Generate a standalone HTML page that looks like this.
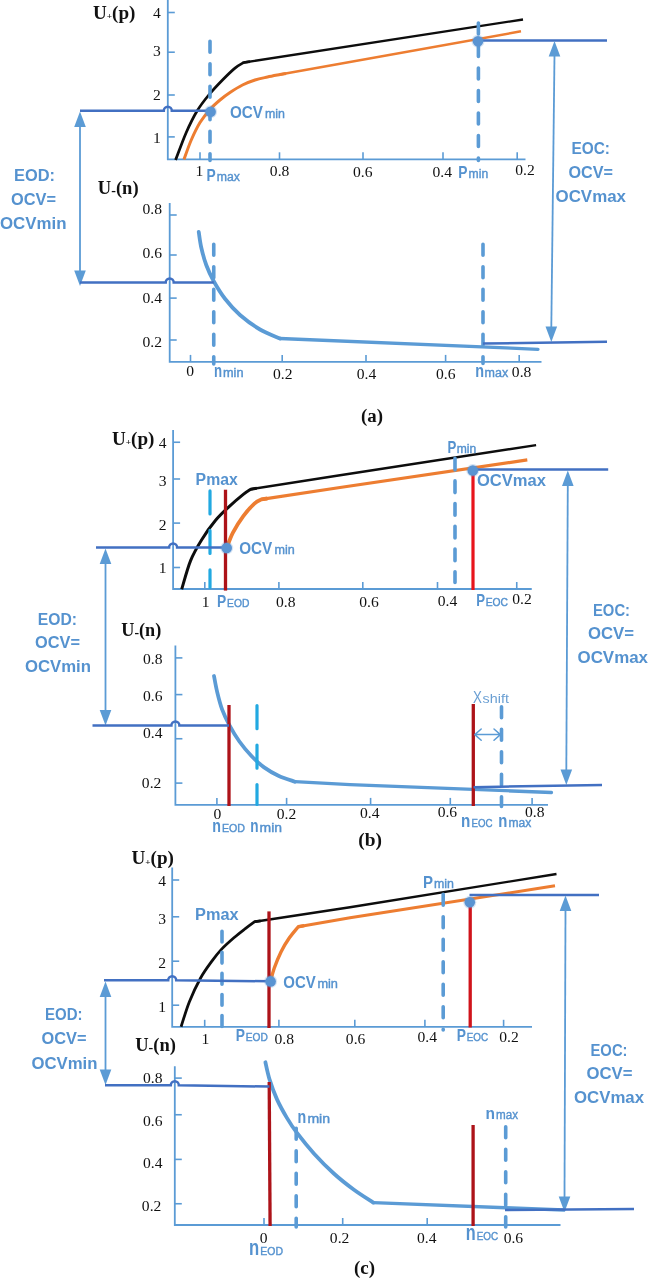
<!DOCTYPE html>
<html lang="en"><head><meta charset="utf-8"><title>Electrode OCV alignment: (a) (b) (c)</title>
<style>
html,body{margin:0;padding:0;background:#fff;}
svg{display:block;filter:blur(0.35px);}
.sans{font-family:"Liberation Sans","DejaVu Sans",sans-serif;}
.serif{font-family:"Liberation Serif","DejaVu Serif",serif;}
</style></head><body>
<svg width="648" height="1280" viewBox="0 0 648 1280">
<rect width="648" height="1280" fill="#fff"/>
<path d="M167.8,0 L167.8,159.3 L525.5,159.3" fill="none" stroke="#5B9BD5" stroke-width="1.8" />
<line x1="167.8" y1="12.5" x2="174.8" y2="12.5" stroke="#5B9BD5" stroke-width="1.6" />
<line x1="167.8" y1="52.2" x2="174.8" y2="52.2" stroke="#5B9BD5" stroke-width="1.6" />
<line x1="167.8" y1="95" x2="174.8" y2="95" stroke="#5B9BD5" stroke-width="1.6" />
<line x1="167.8" y1="136.9" x2="174.8" y2="136.9" stroke="#5B9BD5" stroke-width="1.6" />
<line x1="200" y1="159.3" x2="200" y2="152.3" stroke="#5B9BD5" stroke-width="1.6" />
<line x1="279.5" y1="159.3" x2="279.5" y2="152.3" stroke="#5B9BD5" stroke-width="1.6" />
<line x1="363" y1="159.3" x2="363" y2="152.3" stroke="#5B9BD5" stroke-width="1.6" />
<line x1="443" y1="159.3" x2="443" y2="152.3" stroke="#5B9BD5" stroke-width="1.6" />
<line x1="517.2" y1="159.3" x2="517.2" y2="152.3" stroke="#5B9BD5" stroke-width="1.6" />
<text x="93" y="18.9" font-size="18.5" class="serif" font-weight="bold" fill="#111" textLength="42.5" lengthAdjust="spacingAndGlyphs">U<tspan font-size="9" dy="0.5">+</tspan><tspan dy="-0.5">(p)</tspan></text>
<text x="157" y="17.5" font-size="15.6" class="serif" text-anchor="middle" fill="#111">4</text>
<text x="157" y="55.6" font-size="15.6" class="serif" text-anchor="middle" fill="#111">3</text>
<text x="157" y="100" font-size="15.6" class="serif" text-anchor="middle" fill="#111">2</text>
<text x="157" y="143.1" font-size="15.6" class="serif" text-anchor="middle" fill="#111">1</text>
<text x="199.5" y="176.4" font-size="15.6" class="serif" text-anchor="middle" fill="#111">1</text>
<text x="279.6" y="176.4" font-size="15.6" class="serif" text-anchor="middle" fill="#111">0.8</text>
<text x="362.8" y="177" font-size="15.6" class="serif" text-anchor="middle" fill="#111">0.6</text>
<text x="442.2" y="177" font-size="15.6" class="serif" text-anchor="middle" fill="#111">0.4</text>
<text x="525" y="175" font-size="15.6" class="serif" text-anchor="middle" fill="#111">0.2</text>
<path d="M243.75,62.5 L523,19.5" fill="none" stroke="#0d0d0d" stroke-width="2.3" />
<path d="M175.6,160 C177.38,155.42 182.7,140.62 186.25,132.5 C189.8,124.38 193.15,117.5 196.9,111.25 C200.65,105.0 204.48,100.21 208.75,95 C213.02,89.79 218.12,84.48 222.5,80 C226.88,75.52 231.46,71.02 235,68.1 C238.54,65.18 242.29,63.43 243.75,62.5 L250,61.54" fill="none" stroke="#0d0d0d" stroke-width="2.75" stroke-linejoin="round"/>
<path d="M280,74.5 L521,31.3" fill="none" stroke="#ED7D31" stroke-width="2.5" />
<path d="M184,159.4 C185.21,156.17 188.58,146.15 191.25,140 C193.92,133.85 196.88,127.6 200,122.5 C203.12,117.4 206.67,113.15 210,109.4 C213.33,105.65 216.67,102.82 220,100 C223.33,97.18 226.25,95.0 230,92.5 C233.75,90.0 238.33,87.08 242.5,85 C246.67,82.92 250.83,81.33 255,80 C259.17,78.67 263.33,77.92 267.5,77 C271.67,76.08 277.92,74.92 280,74.5 L286,73.42" fill="none" stroke="#ED7D31" stroke-width="3.0" />
<line x1="210" y1="41.3" x2="210" y2="160.5" stroke="#5B9BD5" stroke-width="3.6" stroke-dasharray="10.9 11.6" stroke-linecap="round"/>
<line x1="478.4" y1="23.05" x2="478.4" y2="160.5" stroke="#5B9BD5" stroke-width="3.6" stroke-dasharray="10.9 11.6" stroke-linecap="round"/>
<path d="M80,110.8 L163.8,110.8 A4,4 0 0 1 171.8,110.8 L210,110.8" fill="none" stroke="#4270C2" stroke-width="2.5" />
<line x1="478" y1="40.5" x2="607" y2="40.5" stroke="#4270C2" stroke-width="2.5" />
<circle cx="210.6" cy="111.7" r="6.5" fill="#5A94D2" opacity="0.25"/>
<circle cx="210.6" cy="111.7" r="5.3" fill="#5A94D2"/>
<circle cx="478" cy="41.2" r="6.5" fill="#5A94D2" opacity="0.25"/>
<circle cx="478" cy="41.2" r="5.3" fill="#5A94D2"/>
<text y="117.5" fill="#5592CF" class="sans"><tspan x="230" font-size="17.2" font-weight="bold" textLength="33" lengthAdjust="spacingAndGlyphs">OCV</tspan><tspan x="265" font-size="12.5" font-weight="normal" stroke="#5592CF" stroke-width="0.4" textLength="20" lengthAdjust="spacingAndGlyphs">min</tspan></text>
<text y="180.5" fill="#5592CF" class="sans"><tspan x="206.4" font-size="16.4" font-weight="bold" textLength="9.2" lengthAdjust="spacingAndGlyphs">P</tspan><tspan x="216.7" font-size="12.5" font-weight="normal" stroke="#5592CF" stroke-width="0.4" textLength="23.2" lengthAdjust="spacingAndGlyphs">max</tspan></text>
<text y="177.8" fill="#5592CF" class="sans"><tspan x="458.3" font-size="16.4" font-weight="bold" textLength="9.2" lengthAdjust="spacingAndGlyphs">P</tspan><tspan x="468.6" font-size="12.5" font-weight="normal" stroke="#5592CF" stroke-width="0.4" textLength="19.6" lengthAdjust="spacingAndGlyphs">min</tspan></text>
<text x="14" y="181" font-size="17.2" fill="#5592CF" font-weight="bold" class="sans" textLength="41" lengthAdjust="spacingAndGlyphs">EOD:</text>
<text x="11" y="205" font-size="17.2" fill="#5592CF" font-weight="bold" class="sans" textLength="45" lengthAdjust="spacingAndGlyphs">OCV=</text>
<text x="0" y="228.5" font-size="17.2" fill="#5592CF" font-weight="bold" class="sans" textLength="66.5" lengthAdjust="spacingAndGlyphs">OCVmin</text>
<text x="571.5" y="154.2" font-size="17.2" fill="#5592CF" font-weight="bold" class="sans" textLength="38.5" lengthAdjust="spacingAndGlyphs">EOC:</text>
<text x="568.5" y="177.7" font-size="17.2" fill="#5592CF" font-weight="bold" class="sans" textLength="44.5" lengthAdjust="spacingAndGlyphs">OCV=</text>
<text x="555.5" y="201.5" font-size="17.2" fill="#5592CF" font-weight="bold" class="sans" textLength="70.5" lengthAdjust="spacingAndGlyphs">OCVmax</text>
<line x1="80" y1="125.1" x2="80" y2="272.5" stroke="#5B9BD5" stroke-width="1.8" />
<polygon points="80,111.6 74.2,127.1 85.8,127.1" fill="#5B9BD5"/>
<polygon points="80,286 74.2,270.5 85.8,270.5" fill="#5B9BD5"/>
<line x1="554.5" y1="54.6" x2="551.3" y2="328.5" stroke="#5B9BD5" stroke-width="1.8" />
<polygon points="554.5,41.1 548.7,56.6 560.3,56.6" fill="#5B9BD5"/>
<polygon points="551.3,342 545.5,326.5 557.0999999999999,326.5" fill="#5B9BD5"/>
<path d="M169.7,203 L169.7,361.9 L541.5,361.9" fill="none" stroke="#5B9BD5" stroke-width="1.8" />
<line x1="169.7" y1="215" x2="176.7" y2="215" stroke="#5B9BD5" stroke-width="1.6" />
<line x1="169.7" y1="255" x2="176.7" y2="255" stroke="#5B9BD5" stroke-width="1.6" />
<line x1="169.7" y1="298.1" x2="176.7" y2="298.1" stroke="#5B9BD5" stroke-width="1.6" />
<line x1="169.7" y1="340" x2="176.7" y2="340" stroke="#5B9BD5" stroke-width="1.6" />
<line x1="190.5" y1="361.9" x2="190.5" y2="354.9" stroke="#5B9BD5" stroke-width="1.6" />
<line x1="282.2" y1="361.9" x2="282.2" y2="354.9" stroke="#5B9BD5" stroke-width="1.6" />
<line x1="366" y1="361.9" x2="366" y2="354.9" stroke="#5B9BD5" stroke-width="1.6" />
<line x1="445.6" y1="361.9" x2="445.6" y2="354.9" stroke="#5B9BD5" stroke-width="1.6" />
<line x1="519.2" y1="361.9" x2="519.2" y2="354.9" stroke="#5B9BD5" stroke-width="1.6" />
<text x="97.8" y="194.3" font-size="18.5" class="serif" font-weight="bold" fill="#111" textLength="40.8" lengthAdjust="spacingAndGlyphs">U<tspan font-size="14" dy="0.5">-</tspan><tspan dy="-0.5">(n)</tspan></text>
<text x="152.3" y="213.75" font-size="15.6" class="serif" text-anchor="middle" fill="#111">0.8</text>
<text x="152.3" y="258.1" font-size="15.6" class="serif" text-anchor="middle" fill="#111">0.6</text>
<text x="152.3" y="302.5" font-size="15.6" class="serif" text-anchor="middle" fill="#111">0.4</text>
<text x="152.3" y="346.9" font-size="15.6" class="serif" text-anchor="middle" fill="#111">0.2</text>
<text x="190.2" y="376.3" font-size="15.6" class="serif" text-anchor="middle" fill="#111">0</text>
<text x="282.7" y="379.3" font-size="15.6" class="serif" text-anchor="middle" fill="#111">0.2</text>
<text x="366.5" y="378.9" font-size="15.6" class="serif" text-anchor="middle" fill="#111">0.4</text>
<text x="445.7" y="378.9" font-size="15.6" class="serif" text-anchor="middle" fill="#111">0.6</text>
<text x="521.6" y="376.7" font-size="15.6" class="serif" text-anchor="middle" fill="#111">0.8</text>
<path d="M280,338.5 L538,349.3" fill="none" stroke="#5B9BD5" stroke-width="3.3" stroke-linecap="round" stroke-linejoin="round"/>
<path d="M198.75,232 C199.17,234.58 200.0,242.0 201.25,247.5 C202.5,253.0 204.17,259.38 206.25,265 C208.33,270.62 210.62,275.62 213.75,281.25 C216.88,286.88 220.62,293.12 225,298.75 C229.38,304.38 234.17,309.88 240,315 C245.83,320.12 253.33,325.58 260,329.5 C266.67,333.42 276.67,337.0 280,338.5" fill="none" stroke="#5B9BD5" stroke-width="3.8" stroke-linecap="round" stroke-linejoin="round"/>
<line x1="213.75" y1="244.3" x2="213.75" y2="364" stroke="#5B9BD5" stroke-width="3.6" stroke-dasharray="10.9 11.6" stroke-linecap="round"/>
<line x1="483" y1="244.3" x2="483" y2="363.5" stroke="#5B9BD5" stroke-width="3.6" stroke-dasharray="10.9 11.6" stroke-linecap="round"/>
<path d="M80,282.4 L165.7,282.4 A4,4 0 0 1 173.7,282.4 L213.75,282.4" fill="none" stroke="#4270C2" stroke-width="2.5" />
<line x1="483" y1="343.6" x2="607" y2="341.8" stroke="#4270C2" stroke-width="2.5" />
<text y="376.5" fill="#5592CF" class="sans"><tspan x="213.9" font-size="17.5" font-weight="bold" textLength="8.1" lengthAdjust="spacingAndGlyphs">n</tspan><tspan x="223" font-size="12" font-weight="normal" stroke="#5592CF" stroke-width="0.4" textLength="20.5" lengthAdjust="spacingAndGlyphs">min</tspan></text>
<text y="376.7" fill="#5592CF" class="sans"><tspan x="475.2" font-size="17.5" font-weight="bold" textLength="8.8" lengthAdjust="spacingAndGlyphs">n</tspan><tspan x="484.6" font-size="12" font-weight="normal" stroke="#5592CF" stroke-width="0.4" textLength="23.6" lengthAdjust="spacingAndGlyphs">max</tspan></text>
<text x="361" y="422" font-size="18" class="serif" font-weight="bold" fill="#111" textLength="22" lengthAdjust="spacingAndGlyphs">(a)</text>
<path d="M173.1,430 L173.1,589 L531.75,589" fill="none" stroke="#5B9BD5" stroke-width="1.8" />
<line x1="173.1" y1="442.25" x2="180.1" y2="442.25" stroke="#5B9BD5" stroke-width="1.6" />
<line x1="173.1" y1="479" x2="180.1" y2="479" stroke="#5B9BD5" stroke-width="1.6" />
<line x1="173.1" y1="523.1" x2="180.1" y2="523.1" stroke="#5B9BD5" stroke-width="1.6" />
<line x1="173.1" y1="567.5" x2="180.1" y2="567.5" stroke="#5B9BD5" stroke-width="1.6" />
<line x1="204.8" y1="589" x2="204.8" y2="582" stroke="#5B9BD5" stroke-width="1.6" />
<line x1="278.9" y1="589" x2="278.9" y2="582" stroke="#5B9BD5" stroke-width="1.6" />
<line x1="362.8" y1="589" x2="362.8" y2="582" stroke="#5B9BD5" stroke-width="1.6" />
<line x1="437.5" y1="589" x2="437.5" y2="582" stroke="#5B9BD5" stroke-width="1.6" />
<line x1="516.75" y1="589" x2="516.75" y2="582" stroke="#5B9BD5" stroke-width="1.6" />
<text x="112" y="444.6" font-size="18.5" class="serif" font-weight="bold" fill="#111" textLength="42.5" lengthAdjust="spacingAndGlyphs">U<tspan font-size="9" dy="0.5">+</tspan><tspan dy="-0.5">(p)</tspan></text>
<text x="162.7" y="447.5" font-size="15.6" class="serif" text-anchor="middle" fill="#111">4</text>
<text x="162.7" y="485.6" font-size="15.6" class="serif" text-anchor="middle" fill="#111">3</text>
<text x="162.7" y="530" font-size="15.6" class="serif" text-anchor="middle" fill="#111">2</text>
<text x="162.7" y="573.1" font-size="15.6" class="serif" text-anchor="middle" fill="#111">1</text>
<text x="205.6" y="606.9" font-size="15.6" class="serif" text-anchor="middle" fill="#111">1</text>
<text x="285.7" y="606.9" font-size="15.6" class="serif" text-anchor="middle" fill="#111">0.8</text>
<text x="369" y="606.9" font-size="15.6" class="serif" text-anchor="middle" fill="#111">0.6</text>
<text x="447.5" y="606.4" font-size="15.6" class="serif" text-anchor="middle" fill="#111">0.4</text>
<text x="522" y="603.9" font-size="15.6" class="serif" text-anchor="middle" fill="#111">0.2</text>
<path d="M250.8,489.2 L340,475.3 L536.1,445.1" fill="none" stroke="#0d0d0d" stroke-width="2.4" stroke-linejoin="round"/>
<path d="M181.7,589.2 C183.18,584.43 187.27,568.85 190.6,560.6 C193.93,552.35 197.53,546.42 201.7,539.7 C205.87,532.98 210.98,525.85 215.6,520.3 C220.22,514.75 224.78,510.72 229.4,506.4 C234.02,502.08 239.73,497.27 243.3,494.4 C246.87,491.53 249.55,490.07 250.8,489.2 L256.73,488.28" fill="none" stroke="#0d0d0d" stroke-width="3.0" stroke-linejoin="round"/>
<path d="M261.4,499.4 L340,487.5 L527.3,459.9" fill="none" stroke="#ED7D31" stroke-width="3.2" stroke-linejoin="round"/>
<path d="M226.7,548 C227.72,545.47 230.03,538.12 232.8,532.8 C235.57,527.48 239.7,520.97 243.3,516.1 C246.9,511.23 251.38,506.38 254.4,503.6 C257.42,500.82 260.23,500.1 261.4,499.4 L267.33,498.5" fill="none" stroke="#ED7D31" stroke-width="3.8" stroke-linejoin="round"/>
<line x1="210" y1="490.9" x2="210" y2="587.4" stroke="#22A9E1" stroke-width="3.2" stroke-dasharray="23.1 16.4" stroke-linecap="round"/>
<line x1="225.5" y1="489.7" x2="225.5" y2="590.6" stroke="#AD1319" stroke-width="3.3" />
<line x1="455" y1="458.2" x2="455" y2="582.5" stroke="#5B9BD5" stroke-width="3.6" stroke-dasharray="11.7 11.0" stroke-linecap="round"/>
<line x1="473" y1="470.5" x2="473" y2="590" stroke="#E8141C" stroke-width="3.2" />
<path d="M96,547.4 L169.1,547.4 A4,4 0 0 1 177.1,547.4 L226.7,547.4" fill="none" stroke="#4270C2" stroke-width="2.5" />
<line x1="473" y1="469.4" x2="608.2" y2="469.4" stroke="#4270C2" stroke-width="2.5" />
<circle cx="226.7" cy="548" r="6.5" fill="#5A94D2" opacity="0.25"/>
<circle cx="226.7" cy="548" r="5.3" fill="#5A94D2"/>
<circle cx="472.8" cy="470.5" r="6.5" fill="#5A94D2" opacity="0.25"/>
<circle cx="472.8" cy="470.5" r="5.3" fill="#5A94D2"/>
<text x="195.6" y="485" font-size="15.8" fill="#5592CF" font-weight="bold" class="sans" textLength="42.2" lengthAdjust="spacingAndGlyphs">Pmax</text>
<text y="553.6" fill="#5592CF" class="sans"><tspan x="239.2" font-size="17.2" font-weight="bold" textLength="33.1" lengthAdjust="spacingAndGlyphs">OCV</tspan><tspan x="274.4" font-size="12.5" font-weight="normal" stroke="#5592CF" stroke-width="0.4" textLength="20.3" lengthAdjust="spacingAndGlyphs">min</tspan></text>
<text y="606.9" fill="#5592CF" class="sans"><tspan x="217" font-size="16.4" font-weight="bold" textLength="9.2" lengthAdjust="spacingAndGlyphs">P</tspan><tspan x="227.1" font-size="10.8" font-weight="normal" stroke="#5592CF" stroke-width="0.4" textLength="22.3" lengthAdjust="spacingAndGlyphs">EOD</tspan></text>
<text y="452.5" fill="#5592CF" class="sans"><tspan x="447.4" font-size="16.4" font-weight="bold" textLength="8.8" lengthAdjust="spacingAndGlyphs">P</tspan><tspan x="456.8" font-size="12.5" font-weight="normal" stroke="#5592CF" stroke-width="0.4" textLength="19.5" lengthAdjust="spacingAndGlyphs">min</tspan></text>
<text x="477" y="486.3" font-size="17.2" fill="#5592CF" font-weight="bold" class="sans" textLength="69" lengthAdjust="spacingAndGlyphs">OCVmax</text>
<text y="606.25" fill="#5592CF" class="sans"><tspan x="476.25" font-size="16.4" font-weight="bold" textLength="8.8" lengthAdjust="spacingAndGlyphs">P</tspan><tspan x="485.7" font-size="10.5" font-weight="normal" stroke="#5592CF" stroke-width="0.4" textLength="22.3" lengthAdjust="spacingAndGlyphs">EOC</tspan></text>
<text x="37.8" y="625" font-size="17.2" fill="#5592CF" font-weight="bold" class="sans" textLength="39.2" lengthAdjust="spacingAndGlyphs">EOD:</text>
<text x="35" y="647.5" font-size="17.2" fill="#5592CF" font-weight="bold" class="sans" textLength="45" lengthAdjust="spacingAndGlyphs">OCV=</text>
<text x="25" y="671.5" font-size="17.2" fill="#5592CF" font-weight="bold" class="sans" textLength="66" lengthAdjust="spacingAndGlyphs">OCVmin</text>
<text x="593" y="616" font-size="17.2" fill="#5592CF" font-weight="bold" class="sans" textLength="37" lengthAdjust="spacingAndGlyphs">EOC:</text>
<text x="588" y="638.5" font-size="17.2" fill="#5592CF" font-weight="bold" class="sans" textLength="46" lengthAdjust="spacingAndGlyphs">OCV=</text>
<text x="577.5" y="662.5" font-size="17.2" fill="#5592CF" font-weight="bold" class="sans" textLength="70.5" lengthAdjust="spacingAndGlyphs">OCVmax</text>
<line x1="105.5" y1="562.1" x2="105.5" y2="712.0" stroke="#5B9BD5" stroke-width="1.8" />
<polygon points="105.5,548.6 99.7,564.1 111.3,564.1" fill="#5B9BD5"/>
<polygon points="105.5,725.5 99.7,710.0 111.3,710.0" fill="#5B9BD5"/>
<line x1="567.8" y1="483.90000000000003" x2="566.3" y2="771.5" stroke="#5B9BD5" stroke-width="1.8" />
<polygon points="567.8,470.40000000000003 562.0,485.90000000000003 573.5999999999999,485.90000000000003" fill="#5B9BD5"/>
<polygon points="566.3,785 560.5,769.5 572.0999999999999,769.5" fill="#5B9BD5"/>
<path d="M175.4,645.6 L175.4,804.9 L548,804.9" fill="none" stroke="#5B9BD5" stroke-width="1.8" />
<line x1="175.4" y1="657.9" x2="182.4" y2="657.9" stroke="#5B9BD5" stroke-width="1.6" />
<line x1="175.4" y1="694.6" x2="182.4" y2="694.6" stroke="#5B9BD5" stroke-width="1.6" />
<line x1="175.4" y1="738.75" x2="182.4" y2="738.75" stroke="#5B9BD5" stroke-width="1.6" />
<line x1="175.4" y1="783.1" x2="182.4" y2="783.1" stroke="#5B9BD5" stroke-width="1.6" />
<line x1="216.9" y1="804.9" x2="216.9" y2="797.9" stroke="#5B9BD5" stroke-width="1.6" />
<line x1="286.6" y1="804.9" x2="286.6" y2="797.9" stroke="#5B9BD5" stroke-width="1.6" />
<line x1="370.6" y1="804.9" x2="370.6" y2="797.9" stroke="#5B9BD5" stroke-width="1.6" />
<line x1="450.3" y1="804.9" x2="450.3" y2="797.9" stroke="#5B9BD5" stroke-width="1.6" />
<line x1="532.1" y1="804.9" x2="532.1" y2="797.9" stroke="#5B9BD5" stroke-width="1.6" />
<text x="121.3" y="636.2" font-size="18.5" class="serif" font-weight="bold" fill="#111" textLength="40" lengthAdjust="spacingAndGlyphs">U<tspan font-size="14" dy="0.5">-</tspan><tspan dy="-0.5">(n)</tspan></text>
<text x="152.8" y="664.4" font-size="15.6" class="serif" text-anchor="middle" fill="#111">0.8</text>
<text x="152.8" y="701.25" font-size="15.6" class="serif" text-anchor="middle" fill="#111">0.6</text>
<text x="152.8" y="738.1" font-size="15.6" class="serif" text-anchor="middle" fill="#111">0.4</text>
<text x="151.6" y="787.5" font-size="15.6" class="serif" text-anchor="middle" fill="#111">0.2</text>
<text x="217.5" y="819" font-size="15.6" class="serif" text-anchor="middle" fill="#111">0</text>
<text x="286.5" y="819" font-size="15.6" class="serif" text-anchor="middle" fill="#111">0.2</text>
<text x="369.8" y="818.2" font-size="15.6" class="serif" text-anchor="middle" fill="#111">0.4</text>
<text x="447.4" y="817.2" font-size="15.6" class="serif" text-anchor="middle" fill="#111">0.6</text>
<text x="534.7" y="817.2" font-size="15.6" class="serif" text-anchor="middle" fill="#111">0.8</text>
<path d="M294.9,781.7 L350,784.7 L551.5,792.5" fill="none" stroke="#5B9BD5" stroke-width="3.3" stroke-linecap="round" stroke-linejoin="round"/>
<path d="M214,676 C214.53,678.68 215.85,686.53 217.2,692.1 C218.55,697.67 220.05,703.85 222.1,709.4 C224.15,714.95 226.62,720.05 229.5,725.4 C232.38,730.75 235.7,736.35 239.4,741.5 C243.1,746.65 247.58,751.98 251.7,756.3 C255.82,760.62 259.57,764.12 264.1,767.4 C268.63,770.68 273.77,773.62 278.9,776 C284.03,778.38 292.23,780.75 294.9,781.7" fill="none" stroke="#5B9BD5" stroke-width="3.8" stroke-linecap="round" stroke-linejoin="round"/>
<line x1="229" y1="705" x2="229" y2="806" stroke="#AD1319" stroke-width="3.3" />
<line x1="257" y1="705.6" x2="257" y2="804.4" stroke="#22A9E1" stroke-width="3.2" stroke-dasharray="23.1 16.4" stroke-linecap="round"/>
<line x1="473.3" y1="704" x2="473.3" y2="806" stroke="#AD1319" stroke-width="3.3" />
<line x1="501.5" y1="706.8" x2="501.5" y2="806.5" stroke="#5B9BD5" stroke-width="3.6" stroke-dasharray="10.9 11.6" stroke-linecap="round"/>
<path d="M92.5,725.5 L171.4,725.5 A4,4 0 0 1 179.4,725.5 L229,725.5" fill="none" stroke="#4270C2" stroke-width="2.5" />
<line x1="473.5" y1="787.2" x2="602" y2="784.9" stroke="#4270C2" stroke-width="2.5" />
<text y="832" fill="#5592CF" class="sans"><tspan x="212.2" font-size="17.5" font-weight="bold" textLength="8.7" lengthAdjust="spacingAndGlyphs">n</tspan><tspan x="221.9" font-size="10.8" font-weight="normal" stroke="#5592CF" stroke-width="0.4" textLength="23.1" lengthAdjust="spacingAndGlyphs">EOD</tspan></text>
<text y="832" fill="#5592CF" class="sans"><tspan x="250.2" font-size="17.5" font-weight="bold" textLength="8.3" lengthAdjust="spacingAndGlyphs">n</tspan><tspan x="259.5" font-size="12" font-weight="normal" stroke="#5592CF" stroke-width="0.4" textLength="22.5" lengthAdjust="spacingAndGlyphs">min</tspan></text>
<text y="826.5" fill="#5592CF" class="sans"><tspan x="461.1" font-size="17.5" font-weight="bold" textLength="9.3" lengthAdjust="spacingAndGlyphs">n</tspan><tspan x="471.6" font-size="10.8" font-weight="normal" stroke="#5592CF" stroke-width="0.4" textLength="21.0" lengthAdjust="spacingAndGlyphs">EOC</tspan></text>
<text y="826.5" fill="#5592CF" class="sans"><tspan x="498.3" font-size="17.5" font-weight="bold" textLength="9.1" lengthAdjust="spacingAndGlyphs">n</tspan><tspan x="508.4" font-size="12" font-weight="normal" stroke="#5592CF" stroke-width="0.4" textLength="22.8" lengthAdjust="spacingAndGlyphs">max</tspan></text>
<text y="703.1" fill="#6A9FD3" class="sans"><tspan x="473" font-size="16.2" textLength="8.9" lengthAdjust="spacingAndGlyphs">X</tspan><tspan x="482.6" font-size="12" textLength="26.3" lengthAdjust="spacingAndGlyphs">shift</tspan></text>
<path d="M475,734.6 L500.3,734.6 M481.2,729 L474.8,734.6 L481.2,740.2 M494,729 L500.4,734.6 L494,740.2" fill="none" stroke="#5B9BD5" stroke-width="1.5" stroke-linejoin="round" stroke-linecap="round"/>
<text x="358.3" y="846.3" font-size="18.5" class="serif" font-weight="bold" fill="#111" textLength="23.7" lengthAdjust="spacingAndGlyphs">(b)</text>
<path d="M172.2,867.5 L172.2,1026.8 L532,1026.8" fill="none" stroke="#5B9BD5" stroke-width="1.8" />
<line x1="172.2" y1="880" x2="179.2" y2="880" stroke="#5B9BD5" stroke-width="1.6" />
<line x1="172.2" y1="916.8" x2="179.2" y2="916.8" stroke="#5B9BD5" stroke-width="1.6" />
<line x1="172.2" y1="961.2" x2="179.2" y2="961.2" stroke="#5B9BD5" stroke-width="1.6" />
<line x1="172.2" y1="1005.2" x2="179.2" y2="1005.2" stroke="#5B9BD5" stroke-width="1.6" />
<line x1="204.7" y1="1026.8" x2="204.7" y2="1019.8" stroke="#5B9BD5" stroke-width="1.6" />
<line x1="278.9" y1="1026.8" x2="278.9" y2="1019.8" stroke="#5B9BD5" stroke-width="1.6" />
<line x1="354.8" y1="1026.8" x2="354.8" y2="1019.8" stroke="#5B9BD5" stroke-width="1.6" />
<line x1="424.9" y1="1026.8" x2="424.9" y2="1019.8" stroke="#5B9BD5" stroke-width="1.6" />
<line x1="503.6" y1="1026.8" x2="503.6" y2="1019.8" stroke="#5B9BD5" stroke-width="1.6" />
<text x="131.5" y="864.4" font-size="18.5" class="serif" font-weight="bold" fill="#111" textLength="42.5" lengthAdjust="spacingAndGlyphs">U<tspan font-size="9" dy="0.5">+</tspan><tspan dy="-0.5">(p)</tspan></text>
<text x="162.2" y="886.25" font-size="15.6" class="serif" text-anchor="middle" fill="#111">4</text>
<text x="162.2" y="923.75" font-size="15.6" class="serif" text-anchor="middle" fill="#111">3</text>
<text x="162.2" y="968.1" font-size="15.6" class="serif" text-anchor="middle" fill="#111">2</text>
<text x="162.2" y="1011.9" font-size="15.6" class="serif" text-anchor="middle" fill="#111">1</text>
<text x="205.3" y="1043.9" font-size="15.6" class="serif" text-anchor="middle" fill="#111">1</text>
<text x="284.3" y="1043.9" font-size="15.6" class="serif" text-anchor="middle" fill="#111">0.8</text>
<text x="355.6" y="1044.3" font-size="15.6" class="serif" text-anchor="middle" fill="#111">0.6</text>
<text x="427.2" y="1042" font-size="15.6" class="serif" text-anchor="middle" fill="#111">0.4</text>
<text x="509" y="1042.2" font-size="15.6" class="serif" text-anchor="middle" fill="#111">0.2</text>
<path d="M254.7,921.7 L350,907.2 L556.5,874" fill="none" stroke="#0d0d0d" stroke-width="2.4" stroke-linejoin="round"/>
<path d="M181.1,1026.7 C182.48,1022.53 186.15,1009.82 189.4,1001.7 C192.65,993.58 196.88,984.72 200.6,978 C204.32,971.28 208.23,966.17 211.7,961.4 C215.17,956.63 217.7,953.33 221.4,949.4 C225.1,945.47 229.97,941.22 233.9,937.8 C237.83,934.38 241.53,931.58 245,928.9 C248.47,926.22 253.08,922.9 254.7,921.7 L260.63,920.8" fill="none" stroke="#0d0d0d" stroke-width="2.8" stroke-linejoin="round"/>
<path d="M298.3,926.7 L350,917.8 L555,885.8" fill="none" stroke="#ED7D31" stroke-width="3.0" stroke-linejoin="round"/>
<path d="M270.6,981.4 C271.2,979.22 272.45,973.25 274.2,968.3 C275.95,963.35 278.57,956.78 281.1,951.7 C283.63,946.62 286.53,941.97 289.4,937.8 C292.27,933.63 296.82,928.55 298.3,926.7 L304.21,925.68" fill="none" stroke="#ED7D31" stroke-width="3.4" stroke-linejoin="round"/>
<line x1="222" y1="931.1999999999999" x2="222" y2="1029" stroke="#5B9BD5" stroke-width="3.6" stroke-dasharray="10.8 10.3" stroke-linecap="round"/>
<line x1="269" y1="911.4" x2="269" y2="1028" stroke="#AD1319" stroke-width="3.3" />
<line x1="443.2" y1="894.3" x2="443.2" y2="1030" stroke="#5B9BD5" stroke-width="3.6" stroke-dasharray="10.9 11.6" stroke-linecap="round"/>
<line x1="470.2" y1="903.5" x2="470.2" y2="1027.5" stroke="#D0141B" stroke-width="3.3" />
<path d="M104,980.2 L168.2,980.2 A4,4 0 0 1 176.2,980.2 L270,981.3" fill="none" stroke="#4270C2" stroke-width="2.5" />
<line x1="469.5" y1="895" x2="599" y2="895" stroke="#4270C2" stroke-width="2.5" />
<circle cx="270.6" cy="981.4" r="6.5" fill="#5A94D2" opacity="0.25"/>
<circle cx="270.6" cy="981.4" r="5.3" fill="#5A94D2"/>
<circle cx="469.8" cy="902.3" r="6.5" fill="#5A94D2" opacity="0.25"/>
<circle cx="469.8" cy="902.3" r="5.3" fill="#5A94D2"/>
<text x="195" y="919.7" font-size="15.8" fill="#5592CF" font-weight="bold" class="sans" textLength="43.6" lengthAdjust="spacingAndGlyphs">Pmax</text>
<text y="988.3" fill="#5592CF" class="sans"><tspan x="283.3" font-size="17.2" font-weight="bold" textLength="32.5" lengthAdjust="spacingAndGlyphs">OCV</tspan><tspan x="317.4" font-size="12.5" font-weight="normal" stroke="#5592CF" stroke-width="0.4" textLength="20.6" lengthAdjust="spacingAndGlyphs">min</tspan></text>
<text y="1040.8" fill="#5592CF" class="sans"><tspan x="235.8" font-size="16.4" font-weight="bold" textLength="9.2" lengthAdjust="spacingAndGlyphs">P</tspan><tspan x="245.8" font-size="10.5" font-weight="normal" stroke="#5592CF" stroke-width="0.4" textLength="22.0" lengthAdjust="spacingAndGlyphs">EOD</tspan></text>
<text y="887.5" fill="#5592CF" class="sans"><tspan x="423" font-size="16.4" font-weight="bold" textLength="10" lengthAdjust="spacingAndGlyphs">P</tspan><tspan x="434" font-size="12.5" font-weight="normal" stroke="#5592CF" stroke-width="0.4" textLength="20" lengthAdjust="spacingAndGlyphs">min</tspan></text>
<text y="1041.2" fill="#5592CF" class="sans"><tspan x="456.7" font-size="16.4" font-weight="bold" textLength="9.2" lengthAdjust="spacingAndGlyphs">P</tspan><tspan x="466.8" font-size="10.8" font-weight="normal" stroke="#5592CF" stroke-width="0.4" textLength="21.3" lengthAdjust="spacingAndGlyphs">EOC</tspan></text>
<text x="45" y="1020" font-size="17.2" fill="#5592CF" font-weight="bold" class="sans" textLength="37.5" lengthAdjust="spacingAndGlyphs">EOD:</text>
<text x="41.5" y="1044" font-size="17.2" fill="#5592CF" font-weight="bold" class="sans" textLength="45.0" lengthAdjust="spacingAndGlyphs">OCV=</text>
<text x="31.5" y="1068.5" font-size="17.2" fill="#5592CF" font-weight="bold" class="sans" textLength="66.0" lengthAdjust="spacingAndGlyphs">OCVmin</text>
<text x="590.5" y="1055.5" font-size="17.2" fill="#5592CF" font-weight="bold" class="sans" textLength="37.0" lengthAdjust="spacingAndGlyphs">EOC:</text>
<text x="586.5" y="1079" font-size="17.2" fill="#5592CF" font-weight="bold" class="sans" textLength="46.0" lengthAdjust="spacingAndGlyphs">OCV=</text>
<text x="574" y="1102.5" font-size="17.2" fill="#5592CF" font-weight="bold" class="sans" textLength="70" lengthAdjust="spacingAndGlyphs">OCVmax</text>
<line x1="105.5" y1="995.1" x2="105.5" y2="1071.5" stroke="#5B9BD5" stroke-width="1.8" />
<polygon points="105.5,981.6 99.7,997.1 111.3,997.1" fill="#5B9BD5"/>
<polygon points="105.5,1085 99.7,1069.5 111.3,1069.5" fill="#5B9BD5"/>
<line x1="565.5" y1="909.1" x2="564.5" y2="1198.5" stroke="#5B9BD5" stroke-width="1.8" />
<polygon points="565.5,895.6 559.7,911.1 571.3,911.1" fill="#5B9BD5"/>
<polygon points="564.5,1212 558.7,1196.5 570.3,1196.5" fill="#5B9BD5"/>
<path d="M174.8,1066.25 L174.8,1225 L560.5,1225" fill="none" stroke="#5B9BD5" stroke-width="1.8" />
<line x1="174.8" y1="1078.1" x2="181.8" y2="1078.1" stroke="#5B9BD5" stroke-width="1.6" />
<line x1="174.8" y1="1114.75" x2="181.8" y2="1114.75" stroke="#5B9BD5" stroke-width="1.6" />
<line x1="174.8" y1="1159.4" x2="181.8" y2="1159.4" stroke="#5B9BD5" stroke-width="1.6" />
<line x1="174.8" y1="1203.75" x2="181.8" y2="1203.75" stroke="#5B9BD5" stroke-width="1.6" />
<line x1="264" y1="1225" x2="264" y2="1218" stroke="#5B9BD5" stroke-width="1.6" />
<line x1="342.7" y1="1225" x2="342.7" y2="1218" stroke="#5B9BD5" stroke-width="1.6" />
<line x1="427.2" y1="1225" x2="427.2" y2="1218" stroke="#5B9BD5" stroke-width="1.6" />
<text x="135.2" y="1051.2" font-size="18.5" class="serif" font-weight="bold" fill="#111" textLength="40.7" lengthAdjust="spacingAndGlyphs">U<tspan font-size="14" dy="0.5">-</tspan><tspan dy="-0.5">(n)</tspan></text>
<text x="152.8" y="1083.1" font-size="15.6" class="serif" text-anchor="middle" fill="#111">0.8</text>
<text x="152.8" y="1125.6" font-size="15.6" class="serif" text-anchor="middle" fill="#111">0.6</text>
<text x="152.8" y="1168.1" font-size="15.6" class="serif" text-anchor="middle" fill="#111">0.4</text>
<text x="151.6" y="1211.25" font-size="15.6" class="serif" text-anchor="middle" fill="#111">0.2</text>
<text x="263.6" y="1242.8" font-size="15.6" class="serif" text-anchor="middle" fill="#111">0</text>
<text x="339.6" y="1242.8" font-size="15.6" class="serif" text-anchor="middle" fill="#111">0.2</text>
<text x="426.7" y="1242.6" font-size="15.6" class="serif" text-anchor="middle" fill="#111">0.4</text>
<text x="513.4" y="1242.6" font-size="15.6" class="serif" text-anchor="middle" fill="#111">0.6</text>
<path d="M373.3,1202.6 L564,1210" fill="none" stroke="#5B9BD5" stroke-width="3.3" stroke-linecap="round" stroke-linejoin="round"/>
<path d="M265.4,1062.3 C266.1,1065.18 267.67,1073.42 269.6,1079.6 C271.53,1085.78 274.12,1093.02 277,1099.4 C279.88,1105.78 283.6,1112.35 286.9,1117.9 C290.2,1123.45 292.27,1126.73 296.8,1132.7 C301.33,1138.67 307.93,1146.9 314.1,1153.7 C320.27,1160.5 327.22,1167.53 333.8,1173.5 C340.38,1179.47 347.02,1184.65 353.6,1189.5 C360.18,1194.35 370.02,1200.42 373.3,1202.6" fill="none" stroke="#5B9BD5" stroke-width="3.8" stroke-linecap="round" stroke-linejoin="round"/>
<line x1="269.2" y1="1082.1" x2="270.1" y2="1226" stroke="#AD1319" stroke-width="3.3" />
<line x1="296.2" y1="1128.3" x2="296.2" y2="1227" stroke="#5B9BD5" stroke-width="3.6" stroke-dasharray="10.9 11.6" stroke-linecap="round"/>
<line x1="473.1" y1="1125" x2="473.1" y2="1226" stroke="#AD1319" stroke-width="3.3" />
<line x1="505.7" y1="1126.8" x2="505.7" y2="1227" stroke="#5B9BD5" stroke-width="3.6" stroke-dasharray="10.9 11.6" stroke-linecap="round"/>
<path d="M105,1085.3 L170.8,1085.3 A4,4 0 0 1 178.8,1085.3 L269.5,1086.6" fill="none" stroke="#4270C2" stroke-width="2.5" />
<line x1="505" y1="1210" x2="634" y2="1209" stroke="#4270C2" stroke-width="2.5" />
<text y="1123.3" fill="#5592CF" class="sans"><tspan x="297.5" font-size="17.5" font-weight="bold" textLength="8.7" lengthAdjust="spacingAndGlyphs">n</tspan><tspan x="307.4" font-size="12" font-weight="normal" stroke="#5592CF" stroke-width="0.4" textLength="22.7" lengthAdjust="spacingAndGlyphs">min</tspan></text>
<text y="1119" fill="#5592CF" class="sans"><tspan x="485.5" font-size="17" font-weight="bold" textLength="9.5" lengthAdjust="spacingAndGlyphs">n</tspan><tspan x="496" font-size="12.5" font-weight="normal" stroke="#5592CF" stroke-width="0.4" textLength="22" lengthAdjust="spacingAndGlyphs">max</tspan></text>
<text y="1255.1" fill="#5592CF" class="sans"><tspan x="249.1" font-size="22" font-weight="bold" textLength="10.2" lengthAdjust="spacingAndGlyphs">n</tspan><tspan x="260.3" font-size="11.2" font-weight="normal" stroke="#5592CF" stroke-width="0.4" textLength="22.7" lengthAdjust="spacingAndGlyphs">EOD</tspan></text>
<text y="1240.1" fill="#5592CF" class="sans"><tspan x="465.7" font-size="22" font-weight="bold" textLength="9.9" lengthAdjust="spacingAndGlyphs">n</tspan><tspan x="476.7" font-size="11.2" font-weight="normal" stroke="#5592CF" stroke-width="0.4" textLength="21.4" lengthAdjust="spacingAndGlyphs">EOC</tspan></text>
<text x="354" y="1273.5" font-size="18" class="serif" font-weight="bold" fill="#111" textLength="21" lengthAdjust="spacingAndGlyphs">(c)</text>
</svg>
</body></html>
